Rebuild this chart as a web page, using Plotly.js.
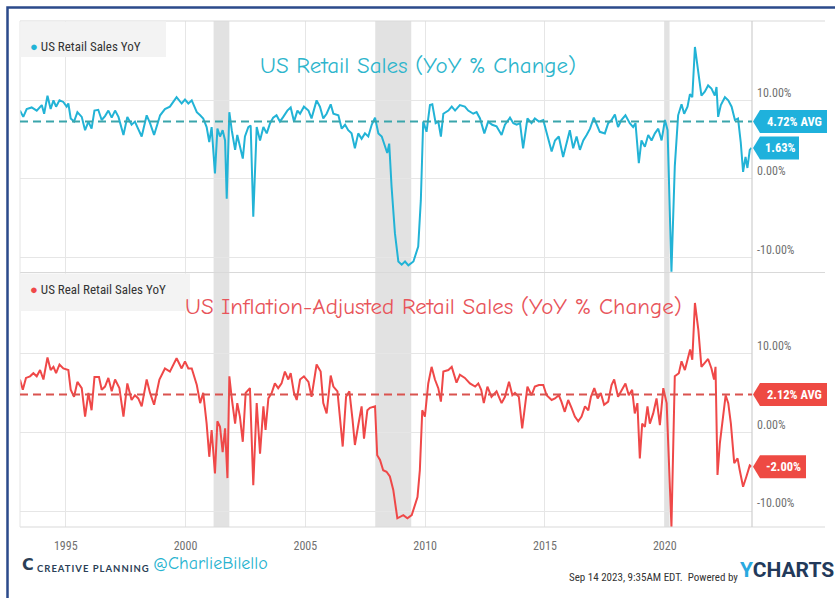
<!DOCTYPE html>
<html>
<head>
<meta charset="utf-8">
<script src="https://cdn.plot.ly/plotly-3.0.1.min.js"></script>
<style>html,body{margin:0;padding:0;background:#fff;} #chart{width:835px;height:598px;}</style>
</head>
<body>
<div id="chart"></div>
<script>
// ---------- DATA (decimal years) ----------
const topYears = [1993.09,1993.23,1993.37,1993.58,1993.79,1994.00,1994.10,1994.24,1994.37,1994.49,1994.60,1994.74,1994.90,1995.04,1995.11,1995.21,1995.35,1995.49,1995.67,1995.81,1995.95,1996.08,1996.20,1996.36,1996.50,1996.64,1996.78,1996.92,1997.06,1997.20,1997.41,1997.57,1997.75,1997.89,1997.99,1998.17,1998.38,1998.52,1998.69,1998.94,1999.14,1999.35,1999.63,1999.84,1999.98,2000.12,2000.26,2000.47,2000.61,2000.74,2000.88,2000.99,2001.09,2001.23,2001.33,2001.44,2001.55,2001.65,2001.72,2001.83,2001.93,2002.07,2002.16,2002.27,2002.39,2002.48,2002.62,2002.72,2002.83,2002.97,2003.11,2003.25,2003.39,2003.53,2003.66,2003.80,2003.94,2004.08,2004.25,2004.39,2004.53,2004.67,2004.78,2004.94,2005.13,2005.26,2005.47,2005.61,2005.75,2005.89,2006.06,2006.17,2006.38,2006.52,2006.66,2006.79,2006.93,2007.07,2007.21,2007.35,2007.49,2007.63,2007.77,2007.91,2008.05,2008.19,2008.32,2008.42,2008.50,2008.60,2008.74,2008.88,2009.02,2009.16,2009.30,2009.51,2009.71,2009.82,2009.92,2010.06,2010.20,2010.30,2010.44,2010.55,2010.66,2010.76,2010.97,2011.11,2011.25,2011.45,2011.66,2011.80,2012.01,2012.15,2012.29,2012.47,2012.63,2012.80,2012.98,2013.19,2013.33,2013.54,2013.68,2013.82,2013.96,2014.09,2014.27,2014.44,2014.58,2014.75,2014.93,2015.07,2015.28,2015.42,2015.58,2015.76,2015.90,2016.04,2016.18,2016.32,2016.46,2016.60,2016.74,2016.88,2017.04,2017.15,2017.29,2017.50,2017.64,2017.78,2017.92,2018.05,2018.19,2018.36,2018.54,2018.68,2018.78,2018.92,2019.03,2019.17,2019.31,2019.45,2019.59,2019.73,2019.87,2020.01,2020.12,2020.28,2020.42,2020.56,2020.70,2020.81,2020.95,2021.05,2021.15,2021.26,2021.40,2021.53,2021.67,2021.81,2021.95,2022.09,2022.16,2022.23,2022.34,2022.51,2022.65,2022.79,2022.93,2023.06,2023.17,2023.27,2023.37,2023.45,2023.55,2023.62];
const topValues = [8.7,7.9,8.9,9.1,8.7,9.4,8.3,10.6,8.9,10.0,9.2,10.0,9.8,9.2,9.6,7.7,7.3,8.5,7.9,6.2,7.3,6.4,8.7,8.8,7.5,8.0,8.7,7.8,8.7,7.9,5.6,7.9,6.9,7.3,6.6,5.4,8.1,7.1,5.6,8.1,8.9,9.2,10.4,9.6,10.1,9.6,10.0,8.5,8.1,7.7,6.6,4.7,6.6,0.7,6.4,5.4,6.2,4.9,-2.5,8.5,6.2,3.7,5.6,4.1,2.6,5.4,6.6,6.8,-4.8,6.6,4.9,6.6,5.8,7.1,7.8,8.1,7.3,7.9,8.7,9.1,7.3,8.7,8.3,9.2,8.7,7.7,10.0,9.2,7.7,8.3,9.5,8.3,8.1,6.4,6.9,6.2,5.8,3.9,5.8,5.1,5.8,5.4,6.9,7.8,5.8,5.4,4.1,3.3,4.5,-1.0,-6.9,-10.5,-10.9,-10.5,-11.0,-10.5,-8.6,-2.7,7.3,6.0,9.4,9.5,7.1,7.3,5.4,8.3,8.7,9.2,8.7,9.4,9.2,8.7,8.3,8.5,7.7,5.8,7.3,6.9,6.7,5.6,6.9,7.8,7.1,6.9,7.1,3.9,7.7,7.1,7.7,7.3,7.5,5.8,3.5,4.9,5.4,2.8,4.5,6.2,3.9,5.4,3.7,4.9,5.6,6.4,7.8,7.1,6.0,5.8,7.1,7.5,8.2,6.6,7.5,8.1,7.1,6.6,7.1,2.0,4.9,4.1,5.6,4.9,5.8,6.4,4.9,7.5,6.2,-11.8,1.6,8.1,9.5,8.3,9.2,10.8,10.4,16.8,13.8,10.6,11.1,11.9,11.5,10.6,11.7,7.9,9.4,10.4,10.0,9.2,7.5,7.7,4.7,0.9,2.8,1.4,3.7,3.95];

const botYears = [1993.09,1993.21,1993.34,1993.51,1993.65,1993.79,1993.93,1994.07,1994.24,1994.37,1994.49,1994.60,1994.74,1994.90,1995.11,1995.21,1995.35,1995.49,1995.67,1995.81,1995.95,1996.08,1996.20,1996.39,1996.50,1996.64,1996.78,1996.92,1997.06,1997.24,1997.41,1997.57,1997.75,1997.89,1998.03,1998.17,1998.38,1998.52,1998.69,1998.91,1999.14,1999.35,1999.63,1999.84,1999.98,2000.12,2000.26,2000.47,2000.61,2000.74,2000.88,2000.99,2001.09,2001.23,2001.33,2001.44,2001.55,2001.65,2001.75,2001.83,2001.93,2002.07,2002.16,2002.27,2002.39,2002.51,2002.69,2002.83,2002.97,2003.11,2003.25,2003.34,2003.46,2003.60,2003.73,2003.87,2004.01,2004.15,2004.29,2004.39,2004.53,2004.64,2004.78,2004.94,2005.13,2005.26,2005.47,2005.64,2005.75,2005.89,2006.06,2006.17,2006.34,2006.45,2006.56,2006.70,2006.84,2006.97,2007.07,2007.21,2007.35,2007.45,2007.59,2007.70,2007.91,2008.00,2008.12,2008.25,2008.39,2008.53,2008.67,2008.84,2008.95,2009.09,2009.26,2009.44,2009.68,2009.78,2009.88,2009.99,2010.13,2010.27,2010.41,2010.55,2010.66,2010.76,2010.97,2011.11,2011.31,2011.45,2011.66,2011.87,2012.09,2012.22,2012.34,2012.45,2012.60,2012.77,2012.98,2013.19,2013.33,2013.50,2013.64,2013.75,2013.91,2014.05,2014.27,2014.44,2014.58,2014.75,2014.93,2015.07,2015.28,2015.42,2015.58,2015.69,2015.83,2015.97,2016.11,2016.25,2016.39,2016.53,2016.67,2016.81,2016.92,2017.06,2017.20,2017.33,2017.47,2017.64,2017.78,2017.89,2018.05,2018.19,2018.36,2018.50,2018.64,2018.75,2018.86,2018.96,2019.06,2019.17,2019.28,2019.38,2019.52,2019.66,2019.80,2019.94,2020.08,2020.28,2020.42,2020.59,2020.70,2020.84,2020.98,2021.06,2021.15,2021.26,2021.40,2021.53,2021.67,2021.81,2021.95,2022.06,2022.12,2022.20,2022.30,2022.40,2022.54,2022.65,2022.76,2022.90,2023.04,2023.13,2023.27,2023.41,2023.55,2023.62];
const botValues = [6.7,5.4,6.9,7.1,7.5,7.1,7.9,6.7,9.5,7.9,8.3,7.5,8.6,8.1,7.9,5.4,4.5,6.4,5.6,2.0,5.0,2.8,7.0,7.0,5.4,5.8,6.9,5.2,6.7,5.6,2.0,6.2,4.1,4.7,4.3,3.3,6.7,5.0,3.5,6.7,8.1,7.7,9.4,8.1,9.0,8.1,8.1,6.0,3.7,5.0,1.1,-3.1,0.3,-5.2,1.4,0.7,-2.5,0.5,-5.8,7.1,4.3,1.1,3.7,2.0,-1.2,5.0,5.6,-6.7,3.7,-2.7,3.3,0.3,4.3,5.0,6.2,5.6,6.2,7.7,6.7,7.5,5.0,4.1,6.7,7.1,6.4,4.5,8.6,7.7,3.7,2.4,7.2,5.8,5.2,1.6,-1.8,4.5,5.2,1.6,-1.6,0.9,3.3,-0.8,2.8,3.1,3.3,-2.9,-3.5,-4.8,-5.0,-5.6,-7.3,-10.9,-10.7,-10.5,-10.9,-10.5,-8.2,-4.8,2.8,2.0,6.2,8.3,6.7,5.6,3.9,7.7,7.9,8.3,6.3,7.3,6.9,6.2,5.8,6.2,5.4,3.7,5.8,4.5,5.2,3.7,4.5,6.4,4.7,5.0,4.5,0.5,5.8,4.7,5.8,6.0,6.0,4.7,4.1,4.3,4.7,3.9,2.6,4.1,3.1,2.0,1.4,2.0,3.3,2.8,4.5,5.6,4.3,5.0,3.5,3.9,6.0,6.7,4.5,5.2,6.2,4.7,5.4,2.4,3.7,-3.3,1.1,0.7,3.3,1.1,2.4,4.3,0.9,5.6,3.7,-12.0,7.1,7.5,9.0,7.9,9.4,10.5,9.2,16.4,13.0,8.3,8.8,9.3,8.1,6.7,8.3,-5.4,-1.4,1.1,4.7,3.7,1.1,-3.9,-3.3,-4.8,-6.9,-5.6,-4.2,-4.35];

const seriesNames = ["US Retail Sales YoY", "US Real Retail Sales YoY"];
const panelTitles = ["US Retail Sales (YoY % Change)", "US Inflation-Adjusted Retail Sales (YoY % Change)"];
const avgLevels = [7.3, 4.8];               // where the dashed average lines sit in the picture
const avgLabels = ["4.72% AVG", "2.12% AVG"];
const lastLabels = ["1.63%", "-2.00%"];
const recessionStarts = [2001.17, 2007.92, 2020.0];
const recessionEnds   = [2001.83, 2009.42, 2020.2];
const xTickYears = [1995, 2000, 2005, 2010, 2015, 2020];
const xTickLabels = ["1995", "2000", "2005", "2010", "2015", "2020"];
const yTickVals = [-10, 0, 10];
const yTickLabels = ["-10.00%", "0.00%", "10.00%"];
const xRangeYears = [1993.093, 2023.643];
const yRangeTop = [-11.9, 20.1];
const yRangeBot = [-12.0, 20.2];

// ---------- helpers ----------
function toDate(y){
  const yr = Math.floor(y), f = y - yr;
  const a = Date.UTC(yr,0,1), b = Date.UTC(yr+1,0,1);
  return new Date(a + f*(b-a)).toISOString().slice(0,10);
}
const W = 835, H = 598, L = 20, R = 83, T = 21, B = 71;
const PW = W - L - R, PH = H - T - B;
const px = p => (p - L) / PW;
const py = p => (H - B - p) / PH;

const cyan = '#22b3d6', red = '#ef4848';
const narrow = '"Liberation Sans Narrow", "Roboto Condensed", Roboto, sans-serif';
const script = '"Comic Sans MS", "Comic Neue", "Noto Sans", sans-serif';

const traces = [
  {x: topYears.map(toDate), y: topValues, xaxis:'x', yaxis:'y', type:'scatter', mode:'lines',
   line:{color:cyan, width:2}, name:seriesNames[0], hoverinfo:'skip'},
  {x: botYears.map(toDate), y: botValues, xaxis:'x', yaxis:'y2', type:'scatter', mode:'lines',
   line:{color:red, width:2}, name:seriesNames[1], hoverinfo:'skip'}
];

const shapes = [];
// recessions
recessionStarts.forEach((s,i)=>{
  shapes.push({type:'rect', xref:'x', yref:'paper', x0:toDate(s), x1:toDate(recessionEnds[i]), y0:0, y1:1,
    fillcolor:'#e2e2e2', line:{width:0}, layer:'below'});
});
// frame lines
const frameCol = '#d9d9d9';
[21, 272.5, 527].forEach(yy=>{
  shapes.push({type:'line', xref:'paper', yref:'paper', x0:px(20), x1:px(825), y0:py(yy), y1:py(yy), line:{color:frameCol, width:1.2}});
});
shapes.push({type:'line', xref:'paper', yref:'paper', x0:px(752), x1:px(752), y0:py(21), y1:py(527), line:{color:'#cfcfcf', width:1.2}});
shapes.push({type:'line', xref:'paper', yref:'paper', x0:px(20), x1:px(20), y0:py(21), y1:py(527), line:{color:'#e4e4e4', width:1}});
// legend boxes
shapes.push({type:'rect', xref:'paper', yref:'paper', x0:px(20.5), x1:px(166), y0:py(57), y1:py(21.5), fillcolor:'#f3f3f3', line:{width:0}});
shapes.push({type:'rect', xref:'paper', yref:'paper', x0:px(20.5), x1:px(190), y0:py(311), y1:py(273.5), fillcolor:'#f3f3f3', line:{width:0}});
// average lines
shapes.push({type:'line', xref:'paper', yref:'y', x0:0, x1:1, y0:avgLevels[0], y1:avgLevels[0], line:{color:'#3aa5ab', width:2, dash:'8px,5px'}});
shapes.push({type:'line', xref:'paper', yref:'y2', x0:0, x1:1, y0:avgLevels[1], y1:avgLevels[1], line:{color:'#d9534f', width:2, dash:'8px,5px'}});
// flags
function flag(yref, yval, w, col){
  shapes.push({type:'path', xref:'paper', xsizemode:'pixel', xanchor:1, yref:yref, ysizemode:'pixel', yanchor:yval,
    path:`M1,0 L8,11.5 L${w},11.5 L${w},-11.5 L8,-11.5 Z`, fillcolor:col, line:{width:0}});
}
flag('y', avgLevels[0], 75, '#1fb1dc');
flag('y', topValues[topValues.length-1], 47, '#1fb1dc');
flag('y2', avgLevels[1], 75, '#ee4a43');
flag('y2', botValues[botValues.length-1], 54, '#ee4a43');
// outer blue frame
shapes.push({type:'rect', xref:'paper', yref:'paper', x0:px(7.5), x1:px(860), y0:py(620), y1:py(7.5), line:{color:'#2b4a8b', width:2.5}, fillcolor:'rgba(0,0,0,0)'});

const ann = [];
// titles
ann.push({xref:'paper', yref:'paper', x:px(418), y:py(50), text:panelTitles[0], showarrow:false, font:{family:script, size:23, color:'#2db5cc'}});
ann.push({xref:'paper', yref:'paper', x:px(433), y:py(306), text:panelTitles[1], showarrow:false, font:{family:script, size:23, color:'#e8545a'}});
// legend texts
ann.push({xref:'paper', yref:'paper', x:px(28), y:py(37), xanchor:'left', showarrow:false,
  text:`<span style="color:${cyan}">●</span> ${seriesNames[0]}`, font:{family:narrow, size:13, color:'#333'}});
ann.push({xref:'paper', yref:'paper', x:px(28), y:py(289), xanchor:'left', showarrow:false,
  text:`<span style="color:${red}">●</span> ${seriesNames[1]}`, font:{family:narrow, size:13, color:'#333'}});
// flag texts
function flagText(yref, yval, txt, centerShift){
  ann.push({xref:'paper', yref:yref, x:1, y:yval, xanchor:'center', xshift:centerShift, showarrow:false,
    text:'<b>'+txt+'</b>', font:{family:narrow, size:12.5, color:'#fff'}});
}
flagText('y', avgLevels[0], avgLabels[0], 42);
flagText('y', topValues[topValues.length-1], lastLabels[0], 28);
flagText('y2', avgLevels[1], avgLabels[1], 42);
flagText('y2', botValues[botValues.length-1], lastLabels[1], 31.5);
// footer
ann.push({xref:'paper', yref:'paper', x:px(20), y:py(576), xanchor:'left', showarrow:false,
  text:'<b>C</b>', font:{family:'DejaVu Sans', size:16, color:'#2b3f57'}});
ann.push({xref:'paper', yref:'paper', x:px(35), y:py(576), xanchor:'left', showarrow:false,
  text:'<b><span style="letter-spacing:1px">CREATIVE PLANNING</span></b>', font:{family:'Lato, "Open Sans", sans-serif', size:9.5, color:'#2b3f57'}});
ann.push({xref:'paper', yref:'paper', x:px(151), y:py(576), xanchor:'left', showarrow:false,
  text:'@CharlieBilello', font:{family:script, size:18, color:'#27b3cf'}});
ann.push({xref:'paper', yref:'paper', x:px(740), y:py(586), xanchor:'right', showarrow:false,
  text:'Sep 14 2023, 9:35AM EDT.  Powered by', font:{family:narrow, size:11, color:'#333'}});
ann.push({xref:'paper', yref:'paper', x:px(738), y:py(584), xanchor:'left', showarrow:false,
  text:'<b><span style="color:#2aa9df">Y</span>CHARTS</b>', font:{family:'Roboto, sans-serif', size:21, color:'#22395a'}});

const yCommon = {side:'right', tickvals:yTickVals, ticktext:yTickLabels, showgrid:true, gridcolor:'#e6e6e6', gridwidth:1,
  zeroline:false, showline:false, ticks:'', tickfont:{family:narrow, size:12, color:'#707070'}, ticklabelshift:-8, ticklabelstandoff:4, fixedrange:true};

const layout = {
  width:W, height:H, margin:{l:L, r:R, t:T, b:B, pad:0},
  paper_bgcolor:'#fff', plot_bgcolor:'#fff', showlegend:false,
  xaxis:{type:'date', range:xRangeYears.map(toDate), anchor:'y2', tickvals:xTickYears.map(y=>toDate(y)), ticktext:xTickLabels,
    showgrid:true, gridcolor:'#e6e6e6', zeroline:false, showline:false, ticks:'', ticklabelstandoff:10,
    tickfont:{family:narrow, size:12, color:'#707070'}},
  yaxis:Object.assign({domain:[0.503,1], range:yRangeTop, anchor:'x'}, yCommon),
  yaxis2:Object.assign({domain:[0,0.502], range:yRangeBot, anchor:'x'}, yCommon),
  shapes:shapes, annotations:ann
};

Plotly.newPlot('chart', traces, layout, {displayModeBar:false, staticPlot:true});
</script>
</body>
</html>
